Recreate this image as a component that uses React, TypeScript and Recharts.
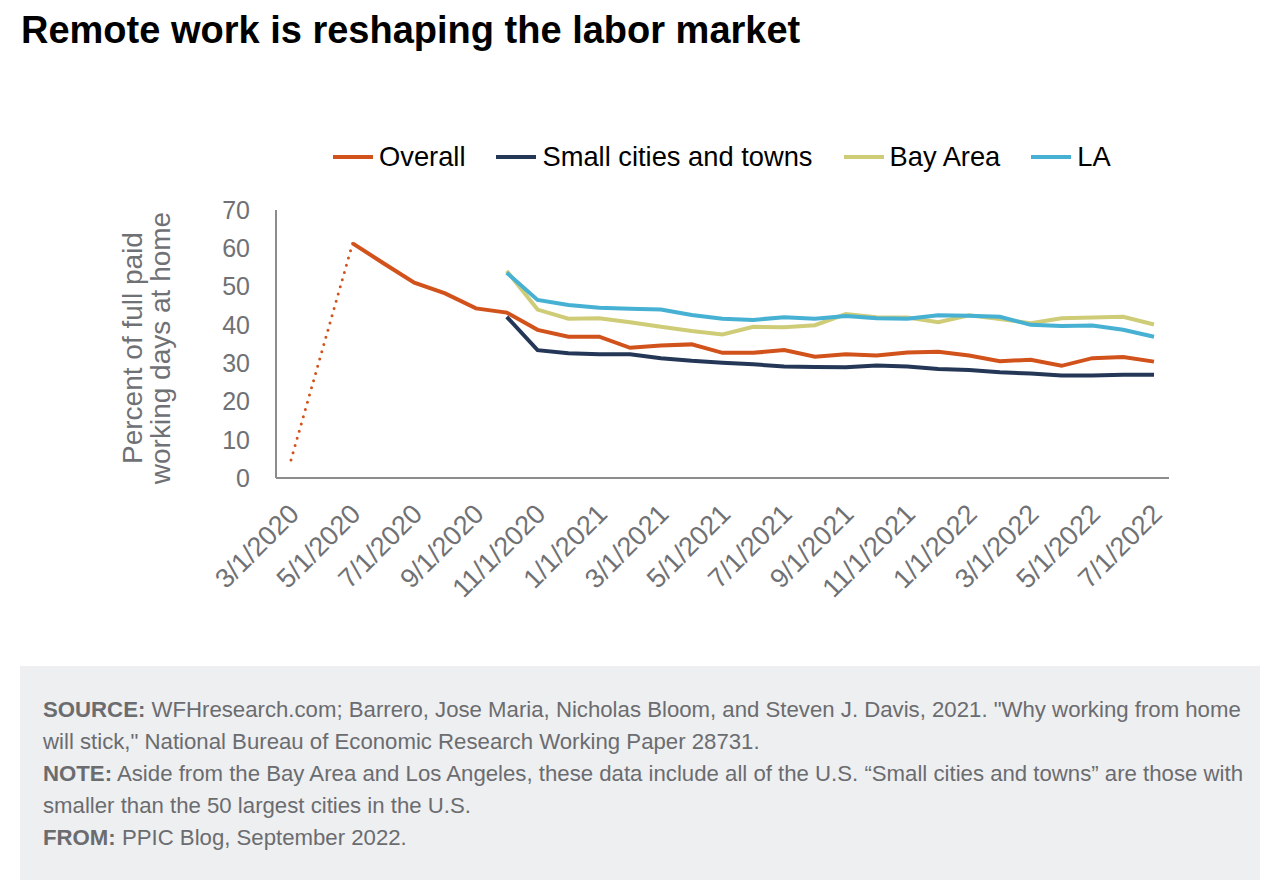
import { LineChart, Line, XAxis, YAxis } from 'recharts'

const months = [
  '3/1/2020', '4/1/2020', '5/1/2020', '6/1/2020', '7/1/2020', '8/1/2020', '9/1/2020', '10/1/2020',
  '11/1/2020', '12/1/2020', '1/1/2021', '2/1/2021', '3/1/2021', '4/1/2021', '5/1/2021', '6/1/2021',
  '7/1/2021', '8/1/2021', '9/1/2021', '10/1/2021', '11/1/2021', '12/1/2021', '1/1/2022', '2/1/2022',
  '3/1/2022', '4/1/2022', '5/1/2022', '6/1/2022', '7/1/2022',
]

// first survey month is only joined to May 2020 by a dotted segment
const overallEarly = [4.7, null, 61.3]

const overall = [
  null, null, 61.3, 56.1, 51.0, 48.2, 44.3, 43.2, 38.7, 36.9, 36.9, 34.0, 34.6, 34.9, 32.7, 32.7,
  33.4, 31.7, 32.3, 32.0, 32.8, 33.0, 32.0, 30.5, 30.9, 29.3, 31.3, 31.6, 30.4,
]

const smallCities = [
  null, null, null, null, null, null, null, 42.1, 33.4, 32.6, 32.3, 32.3, 31.3, 30.6, 30.1, 29.7,
  29.1, 29.0, 28.9, 29.4, 29.1, 28.5, 28.2, 27.6, 27.3, 26.8, 26.8, 27.0, 27.0,
]

const bayArea = [
  null, null, null, null, null, null, null, 54.1, 44.0, 41.6, 41.7, 40.7, 39.5, 38.4, 37.5, 39.5,
  39.4, 39.9, 42.8, 42.0, 41.9, 40.7, 42.5, 41.5, 40.4, 41.7, 41.9, 42.1, 40.1,
]

const la = [
  null, null, null, null, null, null, null, 53.6, 46.5, 45.2, 44.5, 44.2, 44.0, 42.6, 41.6, 41.3,
  42.0, 41.6, 42.3, 41.7, 41.6, 42.5, 42.4, 42.1, 40.0, 39.7, 39.8, 38.7, 36.9,
]

const yTicks = [0, 10, 20, 30, 40, 50, 60, 70]

const seriesNames = ['Overall', 'Small cities and towns', 'Bay Area', 'LA']
const seriesColors = ['#d2521c', '#253757', '#cfcc78', '#47b1d4']

const chartData = months.map((m, i) => ({
  month: m,
  overallEarly: overallEarly[i] ?? null,
  overall: overall[i],
  small: smallCities[i],
  bay: bayArea[i],
  la: la[i],
}))

const gray = '#707174'
const axisFont = '"Liberation Sans", Arial, sans-serif'

function YLabel(props: any) {
  const vb = props.viewBox || { x: 0, y: 210, height: 268 }
  const cy = vb.y + vb.height / 2 + 4
  return (
    <g fill={gray} fontSize={28} fontFamily={axisFont}>
      <text x={142} y={cy} transform={`rotate(-90, 142, ${cy})`} textAnchor="middle">
        Percent of full paid
      </text>
      <text x={170} y={cy} transform={`rotate(-90, 170, ${cy})`} textAnchor="middle">
        working days at home
      </text>
    </g>
  )
}

function Legend() {
  return (
    <div
      style={{
        position: 'absolute',
        top: 141,
        left: 333,
        display: 'flex',
        gap: 31,
        fontFamily: axisFont,
        fontSize: 27.3,
        color: '#000',
        lineHeight: '32px',
      }}
    >
      {seriesNames.map((name, i) => (
        <div key={name} style={{ display: 'flex', alignItems: 'center' }}>
          <span
            style={{
              display: 'inline-block',
              width: 40,
              height: 4,
              background: seriesColors[i],
              marginRight: 6,
            }}
          />
          {name}
        </div>
      ))}
    </div>
  )
}

export default function App() {
  return (
    <div style={{ position: 'relative', width: 1280, height: 888, background: '#fff' }}>
      <style>{'body{margin:0}'}</style>
      <div
        style={{
          position: 'absolute',
          left: 21,
          top: 9,
          fontFamily: '"Liberation Sans", Arial, sans-serif',
          fontWeight: 700,
          fontSize: 38,
          color: '#000',
        }}
      >
        Remote work is reshaping the labor market
      </div>

      <Legend />

      <div style={{ position: 'absolute', left: 0, top: 0 }}>
        <LineChart
          width={1280}
          height={640}
          data={chartData}
          margin={{ top: 210, right: 111, left: 0, bottom: 0 }}
        >
          <XAxis
            dataKey="month"
            height={162}
            interval={1}
            padding={{ left: 15, right: 15 }}
            axisLine={{ stroke: '#8c8c8c', strokeWidth: 2 }}
            tickLine={false}
            angle={-45}
            textAnchor="end"
            tickMargin={18}
            tick={{ fill: gray, fontSize: 27, fontFamily: axisFont, dx: -4 }}
          />
          <YAxis
            width={276}
            domain={[0, 70]}
            ticks={yTicks}
            interval={0}
            axisLine={{ stroke: '#8c8c8c', strokeWidth: 2 }}
            tickLine={false}
            tickMargin={20}
            tick={{ fill: gray, fontSize: 25, fontFamily: axisFont }}
            label={{ content: YLabel }}
          />
          <Line
            dataKey="overallEarly"
            stroke={seriesColors[0]}
            strokeWidth={3}
            strokeDasharray="0 7.5"
            strokeLinecap="round"
            dot={false}
            connectNulls
            isAnimationActive={false}
          />
          <Line dataKey="overall" stroke={seriesColors[0]} strokeWidth={4} dot={false} isAnimationActive={false} />
          <Line dataKey="small" stroke={seriesColors[1]} strokeWidth={4} dot={false} isAnimationActive={false} />
          <Line dataKey="bay" stroke={seriesColors[2]} strokeWidth={4} dot={false} isAnimationActive={false} />
          <Line dataKey="la" stroke={seriesColors[3]} strokeWidth={4} dot={false} isAnimationActive={false} />
        </LineChart>
      </div>

      <div
        style={{
          position: 'absolute',
          left: 20,
          top: 666,
          width: 1240,
          height: 214,
          background: '#eeeff1',
          boxSizing: 'border-box',
          padding: '28px 0 0 23px',
          fontFamily: axisFont,
          fontSize: 22.2,
          lineHeight: '32px',
          color: '#6b6c6f',
        }}
      >
        <div>
          <b>SOURCE:</b> WFHresearch.com; Barrero, Jose Maria, Nicholas Bloom, and Steven J. Davis, 2021. "Why working from home
          <br />
          will stick," National Bureau of Economic Research Working Paper 28731.
        </div>
        <div>
          <b>NOTE:</b> Aside from the Bay Area and Los Angeles, these data include all of the U.S. “Small cities and towns” are those with
          <br />
          smaller than the 50 largest cities in the U.S.
        </div>
        <div>
          <b>FROM:</b> PPIC Blog, September 2022.
        </div>
      </div>
    </div>
  )
}
